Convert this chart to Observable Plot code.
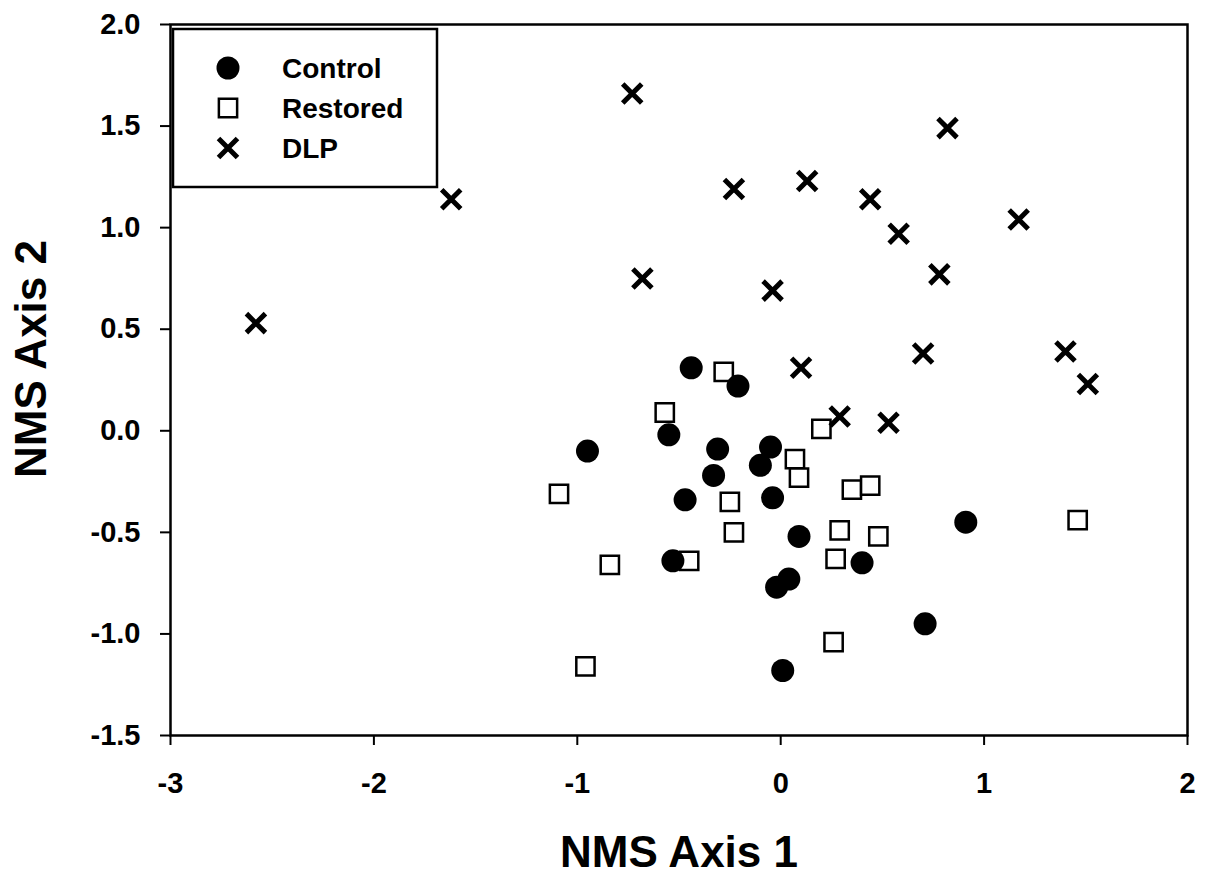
<!DOCTYPE html>
<html>
<head>
<meta charset="utf-8">
<script src="https://cdn.jsdelivr.net/npm/d3@7"></script>
<script src="https://cdn.jsdelivr.net/npm/@observablehq/plot@0.6"></script>
<style>
  html, body { margin: 0; padding: 0; background: #fff; }
  #chart { position: relative; width: 1206px; height: 877px; }
</style>
</head>
<body>
<div id="chart"></div>
<script>
// ---- Data ----
const controlX = [-0.44, -0.21, -0.55, -0.95, -0.31, -0.05, -0.10, -0.33, -0.47, -0.04, 0.09, -0.53, 0.40, 0.04, -0.02, 0.01, 0.91, 0.71];
const controlY = [0.31, 0.22, -0.02, -0.10, -0.09, -0.08, -0.17, -0.22, -0.34, -0.33, -0.52, -0.64, -0.65, -0.73, -0.77, -1.18, -0.45, -0.95];

const restoredX = [-0.28, -0.57, 0.20, -1.09, 0.07, 0.09, 0.35, 0.44, -0.25, -0.23, 0.29, 0.48, -0.84, -0.45, 0.27, 0.26, -0.96, 1.46];
const restoredY = [0.29, 0.09, 0.01, -0.31, -0.14, -0.23, -0.29, -0.27, -0.35, -0.50, -0.49, -0.52, -0.66, -0.64, -0.63, -1.04, -1.16, -0.44];

const dlpX = [-2.58, -1.62, -0.73, -0.68, -0.23, -0.04, 0.13, 0.10, 0.29, 0.44, 0.58, 0.53, 0.82, 0.78, 0.70, 1.17, 1.40, 1.51];
const dlpY = [0.53, 1.14, 1.66, 0.75, 1.19, 0.69, 1.23, 0.31, 0.07, 1.14, 0.97, 0.04, 1.49, 0.77, 0.38, 1.04, 0.39, 0.23];

const xTicks = [-3, -2, -1, 0, 1, 2];
const yTicks = [-1.5, -1.0, -0.5, 0.0, 0.5, 1.0, 1.5, 2.0];
const groups = ["Control", "Restored", "DLP"];
const xLabel = "NMS Axis 1";
const yLabel = "NMS Axis 2";

const toRows = (xs, ys, g) => xs.map((x, i) => ({x, y: ys[i], group: g}));
const control = toRows(controlX, controlY, groups[0]);
const restored = toRows(restoredX, restoredY, groups[1]);
const dlp = toRows(dlpX, dlpY, groups[2]);

const FONT = '"Liberation Sans", Arial, Helvetica, sans-serif';

const plot = Plot.plot({
  width: 1206,
  height: 877,
  marginLeft: 170,
  marginRight: 19,
  marginTop: 24,
  marginBottom: 142,
  style: {fontFamily: FONT, fontSize: "29px", fontWeight: "bold", color: "#000", background: "#fff"},
  x: {domain: [-3, 2]},
  y: {domain: [-1.5, 2]},
  marks: [
    Plot.frame({stroke: "#000", strokeWidth: 2.5}),
    Plot.axisX({ticks: xTicks, tickSize: 10, tickPadding: 27, tickFormat: d => String(d), label: null,
      strokeWidth: 2, stroke: "#000", fill: "#000", fontSize: 29, fontWeight: "bold"}),
    Plot.axisY({ticks: yTicks, tickSize: 10, tickPadding: 20, tickFormat: d => d.toFixed(1), label: null,
      strokeWidth: 2, stroke: "#000", fill: "#000", fontSize: 29, fontWeight: "bold"}),
    Plot.dot(restored, {x: "x", y: "y", symbol: "square", r: 10.3, fill: "#fff", stroke: "#000", strokeWidth: 2.5}),
    Plot.dot(control, {x: "x", y: "y", symbol: "circle", r: 11.5, fill: "#000", stroke: "none"}),
    Plot.dot(dlp, {x: "x", y: "y", symbol: "times", r: 8.7, fill: "none", stroke: "#000", strokeWidth: 5}),
    Plot.text([xLabel], {frameAnchor: "bottom", lineAnchor: "middle", textAnchor: "middle", dy: 117, text: d => d,
      fontSize: 44, fontWeight: "bold", fill: "#000", ariaLabel: "x-title"}),
    Plot.text([yLabel], {frameAnchor: "left", lineAnchor: "middle", textAnchor: "middle", dx: -139, dy: -21, rotate: -90, text: d => d,
      fontSize: 44, fontWeight: "bold", fill: "#000", ariaLabel: "y-title"})
  ]
});

document.getElementById("chart").appendChild(plot);

const svg = d3.select(plot);
// slightly condensed axis titles, as in the reference
svg.selectAll('g[aria-label="x-title"] text').attr("textLength", 232).attr("lengthAdjust", "spacingAndGlyphs");
svg.selectAll('g[aria-label="y-title"] text').attr("textLength", 205).attr("lengthAdjust", "spacingAndGlyphs");

// ---- Legend (inside the plot frame, top-left) ----
const lg = svg.append("g").attr("class", "legend").attr("transform", "translate(173,29)");
lg.append("rect").attr("x", 0).attr("y", 0).attr("width", 264).attr("height", 158)
  .attr("fill", "#fff").attr("stroke", "#000").attr("stroke-width", 2.5);
const symDefs = [
  {type: d3.symbolCircle, r: 11.5, fill: "#000", stroke: "none", sw: 0},
  {type: d3.symbolSquare, r: 10.3, fill: "#fff", stroke: "#000", sw: 2.5},
  {type: d3.symbolTimes, r: 8.7, fill: "none", stroke: "#000", sw: 5}
];
groups.forEach((g, i) => {
  const cy = 39 + i * 40;
  const s = symDefs[i];
  lg.append("path")
    .attr("transform", `translate(55,${cy})`)
    .attr("d", d3.symbol(s.type, s.r * s.r * Math.PI)())
    .attr("fill", s.fill).attr("stroke", s.stroke).attr("stroke-width", s.sw);
  lg.append("text")
    .attr("x", 109).attr("y", cy).attr("dy", "0.35em")
    .attr("text-anchor", "start")
    .attr("font-family", FONT).attr("font-size", 28).attr("font-weight", "bold")
    .attr("fill", "#000")
    .text(g);
});
</script>
</body>
</html>
